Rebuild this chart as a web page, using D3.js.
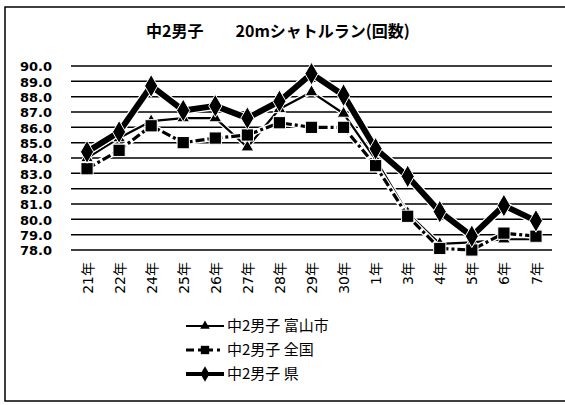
<!DOCTYPE html>
<html><head><meta charset="utf-8">
<script src="https://cdn.jsdelivr.net/npm/d3@7"></script>
<style>
html,body{margin:0;padding:0;background:#fff;}
svg{display:block;}
text{font-family:"DejaVu Sans","Noto Sans CJK JP",sans-serif;fill:#000;}
</style></head>
<body>
<script>
const categories = ["21年","22年","24年","25年","26年","27年","28年","29年","30年","1年","3年","4年","5年","6年","7年"];
const toyama = [84.0,85.3,86.4,86.6,86.6,84.7,87.2,88.3,86.9,83.9,80.4,78.4,78.5,78.7,78.7];
const zenkoku = [83.3,84.5,86.1,85.0,85.3,85.5,86.3,86.0,86.0,83.5,80.2,78.1,78.0,79.1,78.9];
const ken = [84.4,85.7,88.7,87.1,87.4,86.6,87.7,89.5,88.1,84.6,82.8,80.5,78.9,80.9,79.9];
const yTicks = [78,79,80,81,82,83,84,85,86,87,88,89,90];
const title = "中2男子\u3000\u300020mシャトルラン(回数)";
const seriesNames = ["中2男子 富山市","中2男子 全国","中2男子 県"];

const W = 565, H = 405;
const svg = d3.select("body").append("svg").attr("width", W).attr("height", H);

// frame
svg.append("rect").attr("x",5).attr("y",7).attr("width",620).attr("height",394)
  .attr("fill","none").attr("stroke","#000").attr("stroke-width",1.5);

svg.append("text").attr("x",278).attr("y",37).attr("text-anchor","middle")
  .style("font-family",'"Noto Sans CJK JP",sans-serif').style("font-weight","bold")
  .style("font-size","16px").style("white-space","pre").text(title);

const x = d3.scalePoint().domain(categories).range([71,552]).padding(0.5);
const y = d3.scaleLinear().domain([78,90]).range([250,66]);

// gridlines
svg.append("g").selectAll("line").data(yTicks).join("line")
  .attr("x1",71).attr("x2",552).attr("y1",d=>y(d)).attr("y2",d=>y(d))
  .attr("stroke","#000").attr("stroke-width",1.5);

// y axis labels
const yAxis = d3.axisLeft(y).tickValues(yTicks).tickFormat(d3.format(".1f")).tickSize(0).tickPadding(0);
const ya = svg.append("g").attr("transform","translate(52,0)").call(yAxis);
ya.select(".domain").remove();
ya.selectAll("text").style("font-size","13px").style("font-weight","bold")
  .style("font-family",'"DejaVu Sans",sans-serif').attr("dy","0.36em");

// x labels
const xAxis = d3.axisBottom(x).tickSize(0).tickPadding(0);
const xa = svg.append("g").attr("transform","translate(0,262)").call(xAxis);
xa.select(".domain").remove();
xa.selectAll("text").attr("transform","rotate(-90)").attr("text-anchor","end")
  .attr("x",0).attr("y",0).attr("dy","0.36em").style("font-size","14px")
  .style("font-family",'"DejaVu Sans","Noto Sans CJK JP",sans-serif');

const line = d3.line().x((d,i)=>x(categories[i])).y(d=>y(d));

const sym = {
  tri: d3.symbol().type(d3.symbolTriangle).size(70),
  sq: d3.symbol().type(d3.symbolSquare).size(150),
  dia: d3.symbol().type(d3.symbolDiamond).size(150)
};
const legSym = {
  tri: d3.symbol().type(d3.symbolTriangle).size(40),
  sq: d3.symbol().type(d3.symbolSquare).size(70),
  dia: d3.symbol().type(d3.symbolDiamond).size(70)
};
const styles = [
  {data:toyama, w:2.2, dash:null, m:"tri"},
  {data:zenkoku, w:3.2, dash:"9,3,3,3", m:"sq"},
  {data:ken, w:6, dash:null, m:"dia"}
];

const plot = svg.append("g");
styles.forEach(s=>{
  plot.append("path").datum(s.data).attr("d",line).attr("fill","none")
    .attr("stroke","#fff").attr("stroke-width",s.w+2.5).attr("stroke-linejoin","round");
  plot.append("path").datum(s.data).attr("d",line).attr("fill","none")
    .attr("stroke","#000").attr("stroke-width",s.w).attr("stroke-dasharray",s.dash)
    .attr("stroke-linejoin","round");
  plot.append("g").selectAll("path").data(s.data).join("path")
    .attr("transform",(d,i)=>`translate(${x(categories[i])},${y(d)})`)
    .attr("d",sym[s.m]).attr("fill","#000").attr("stroke","#fff").attr("stroke-width",1);
});

// legend
const legY = [326,350,374];
const lg = svg.append("g");
styles.forEach((s,i)=>{
  const g = lg.append("g").attr("transform",`translate(0,${legY[i]})`);
  g.append("line").attr("x1",186).attr("x2",224).attr("y1",0).attr("y2",0)
    .attr("stroke","#000").attr("stroke-width",Math.min(s.w,4)).attr("stroke-dasharray",s.dash?"8,4,3,4":null);
  g.append("path").attr("transform","translate(205,0)").attr("d",legSym[s.m]).attr("fill","#000");
  g.append("text").attr("x",227).attr("y",0).attr("dy","0.36em")
    .style("font-family",'"Noto Sans CJK JP",sans-serif').style("font-size","15px").text(seriesNames[i]);
});
</script>
</body></html>
